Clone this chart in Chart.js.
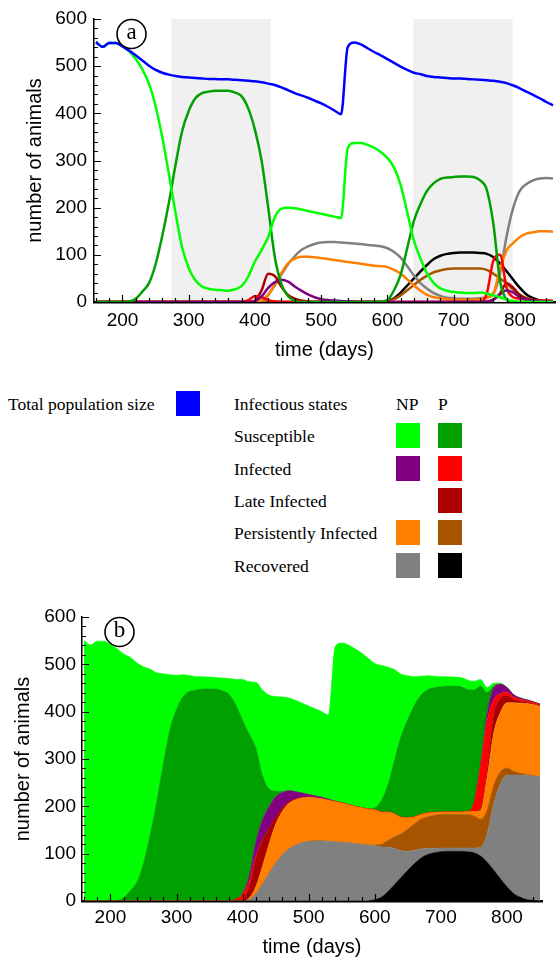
<!DOCTYPE html>
<html>
<head>
<meta charset="utf-8">
<script src="https://cdn.jsdelivr.net/npm/chart.js@4.4.1/dist/chart.umd.min.js"></script>
<style>
    html, body { margin: 0; padding: 0; background: #fff; }
    body { width: 560px; height: 960px; position: relative; overflow: hidden; }
    .chartBox { position: absolute; left: 0; width: 560px; height: 370px; }
    #boxA { top: 0; }
    #boxB { top: 590px; }
    .lg { position: absolute; font-family: "Liberation Serif", "Times New Roman", serif; font-size: 17.5px; color: #000; line-height: 32px; height: 32px; white-space: nowrap; }
    .sq { position: absolute; width: 24px; height: 25px; }
</style>
</head>
<body>
<div class="chartBox" id="boxA"><canvas id="chartA"></canvas></div>
<div id="legend"></div>
<div class="chartBox" id="boxB"><canvas id="chartB"></canvas></div>

<script>
// Data (days, animals)
// ----------------------------------------------
const days = [
    160,170,180,190,200,210,220,230,240,250,
    260,270,280,290,300,310,320,330,340,350,
    360,370,380,390,400,410,420,430,440,450,
    460,470,480,490,500,510,520,530,540,550,
    560,570,580,590,600,610,620,630,640,650,
    660,670,680,690,700,710,720,730,740,750,
    760,770,780,790,800,810,820,830,840,850
];

const xTickValues = [ 200, 300, 400, 500, 600, 700, 800 ];

const totalPop = [
    551,541,549,549,542,533,523,512,501,492,
    486,482,479,477,476,475,474,473,473,472,
    472,471,470,469,468,466,463,460,455,449,
    443,438,433,427,421,414,406,398,540,550,
    546,538,530,523,515,507,499,492,486,483,
    479,477,476,475,474,474,473,472,471,470,
    469,467,464,459,453,446,439,432,424,417
];

// Susceptible, non-pregnant (NP) / pregnant (P)
const suscNP = [
    551,541,549,549,542,532,515,493,463,415,
    350,272,190,116,72,46,33,28,26,25,
    24,27,34,54,86,110,138,180,198,200,
    199,196,193,190,187,184,181,178,326,337,
    337,333,327,318,305,285,248,190,130,92,
    60,40,29,24,21,20,19,19,20,18,
    14,10,5,2,0,0,0,0,0,0
];
const suscP = [
    0,0,0,0,0,1,7,22,40,80,
    140,210,290,362,405,432,443,446,448,448,
    448,444,436,410,365,300,200,95,38,12,
    3,0,0,0,0,0,0,0,0,0,
    0,0,0,1,4,25,58,115,172,208,
    236,252,261,264,265,266,266,265,258,238,
    165,45,5,0,0,0,0,0,0,0
];

const infNP = [
    0,0,0,0,0,0,0,0,0,0,
    0,0,0,0,0,0,0,0,0,0,
    0,0,0,0,2,12,30,42,47,43,
    33,24,16,10,6,4,3,2,1,1,
    0,0,0,0,0,0,0,0,0,0,
    0,0,0,0,0,0,0,0,0,1,
    5,16,25,20,10,5,3,2,1,1
];
const infP = [
    0,0,0,0,0,0,0,0,0,0,
    0,0,0,0,0,0,0,0,0,0,
    0,0,0,4,12,10,4,1,0,0,
    0,0,0,0,0,0,0,0,0,0,
    0,0,0,0,0,0,0,0,0,0,
    0,0,0,0,0,0,0,0,0,18,
    88,100,30,10,7,5,4,3,3,2
];
const lateP = [
    0,0,0,0,0,0,0,0,0,0,
    0,0,0,0,0,0,0,0,0,0,
    0,0,0,0,3,25,60,55,32,15,
    7,3,1,0,0,0,0,0,0,0,
    0,0,0,0,0,0,0,0,0,0,
    0,0,0,0,0,0,0,0,0,0,
    5,18,40,30,15,7,4,3,2,2
];

const persNP = [
    0,0,0,0,0,0,0,0,0,0,
    0,0,0,0,0,0,0,0,0,0,
    0,0,0,0,0,3,15,38,62,82,
    92,96,96,95,93,91,89,87,85,83,
    81,79,77,76,74,68,60,48,35,24,
    15,10,8,6,5,5,5,5,6,9,
    18,70,110,125,138,145,148,150,150,149
];
const persP = [
    0,0,0,0,0,0,0,0,0,0,
    0,0,0,0,0,0,0,0,0,0,
    0,0,0,0,0,0,0,0,0,0,
    0,0,0,0,0,0,0,0,0,0,
    0,0,0,0,2,6,14,25,36,47,
    56,63,67,70,71,71,71,71,71,68,
    60,50,40,26,15,8,4,2,1,0
];

const recNP = [
    0,0,0,0,0,0,0,0,0,0,
    0,0,0,0,0,0,0,0,0,0,
    0,0,0,0,0,3,15,35,58,80,
    97,110,118,123,126,127,127,126,125,124,
    123,121,120,118,114,106,94,76,56,40,
    28,19,13,9,8,7,7,7,8,10,
    18,60,140,200,236,250,258,262,263,262
];
const recP = [
    0,0,0,0,0,0,0,0,0,0,
    0,0,0,0,0,0,0,0,0,0,
    0,0,0,0,0,0,0,0,0,0,
    0,0,0,0,0,0,0,0,0,0,
    0,0,0,0,3,8,20,35,50,65,
    79,91,98,102,104,105,105,105,104,102,
    95,82,65,47,30,16,8,3,1,0
];

// grey shaded periods in panel a (days)
const seasonBands = [ [274, 424], [639, 789] ];

// legend texts
const stateNames = [ 'Susceptible', 'Infected', 'Late Infected', 'Persistently Infected', 'Recovered' ];



// Colors
// ----------------------------------------------
const blueColor   = '#0000ff';
const npColors    = [ '#00ff00', '#800080', null,      '#ff8000', '#808080' ];
const pColors     = [ '#00a000', '#ff0000', '#aa0000', '#a65400', '#000000' ];
const bandColor   = '#f0f0f0';
const axisFont    = '"Liberation Sans", Arial, sans-serif';

// stacking order for panel b, bottom to top
const stackSeries = [
    { data: recP,   color: pColors[4] },
    { data: recNP,  color: npColors[4] },
    { data: persP,  color: pColors[3] },
    { data: persNP, color: npColors[3] },
    { data: lateP,  color: pColors[2] },
    { data: infP,   color: pColors[1] },
    { data: infNP,  color: npColors[1] },
    { data: suscP,  color: pColors[0] },
    { data: suscNP, color: npColors[0] }
];

const toPoints = arr => days.map( (d, i) => ({ x: d, y: arr[i] }) );



// Plugins
// ----------------------------------------------
const seasonShade = {
    id: 'seasonShade',
    beforeDatasetsDraw( chart ) {
        const { ctx, chartArea: { top, bottom }, scales: { x } } = chart;
        ctx.save();
        ctx.fillStyle = bandColor;
        seasonBands.forEach( b => {
            const x0 = x.getPixelForValue( b[0] );
            const x1 = x.getPixelForValue( b[1] );
            ctx.fillRect( x0, top, x1 - x0, bottom - top );
        });
        ctx.restore();
    }
};

// small ticks pointing into the plot, major every 100, minor every 20
const innerTicks = {
    id: 'innerTicks',
    afterDatasetsDraw( chart ) {
        const { ctx, chartArea: { left, bottom }, scales: { x, y } } = chart;
        ctx.save();
        ctx.strokeStyle = '#000';
        ctx.lineWidth = 1.2;
        ctx.beginPath();
        for ( let v = 160; v <= x.max; v += 20 ) {
            const px = Math.round( x.getPixelForValue( v ) ) + 0.5;
            const len = ( v % 100 === 0 ) ? 7 : 4;
            ctx.moveTo( px, bottom );
            ctx.lineTo( px, bottom - len );
        }
        for ( let v = 0; v <= y.max; v += 20 ) {
            const py = Math.round( y.getPixelForValue( v ) ) + 0.5;
            const len = ( v % 100 === 0 ) ? 7 : 4;
            ctx.moveTo( left, py );
            ctx.lineTo( left + len, py );
        }
        ctx.stroke();
        ctx.restore();
    }
};

// circled panel letter
const panelTag = {
    id: 'panelTag',
    afterDraw( chart, args, opts ) {
        const { ctx, chartArea: { left, top } } = chart;
        const cx = left + 37.5, cy = top + 15;
        ctx.save();
        ctx.beginPath();
        ctx.arc( cx, cy, 14.5, 0, Math.PI * 2 );
        ctx.lineWidth = 1.6;
        ctx.strokeStyle = '#000';
        ctx.stroke();
        ctx.fillStyle = '#000';
        ctx.font = '23px "Liberation Serif", serif';
        ctx.textAlign = 'center';
        ctx.textBaseline = 'middle';
        ctx.fillText( opts.text, cx, cy - 1 );
        ctx.restore();
    }
};



// Shared axis options
// ----------------------------------------------
let axisOptions = ( g ) => ({
    x: {
        type: 'linear',
        min: 157,
        max: 853,
        afterFit: s => { s.height = g.xHeight; },
        afterBuildTicks: s => { s.ticks = xTickValues.map( v => ({ value: v }) ); },
        border: { display: true, color: '#000', width: 2.5 },
        grid: { display: false, drawTicks: false },
        ticks: {
            padding: g.xPad,
            color: '#000',
            font: { family: axisFont, size: 19 },
            maxRotation: 0,
            autoSkip: false
        },
        title: {
            display: true,
            text: 'time (days)',
            color: '#000',
            font: { family: axisFont, size: 20 },
            padding: { top: 0, bottom: g.xTitlePad }
        }
    },
    y: {
        min: 0,
        max: 600,
        stacked: g.stacked,
        afterFit: s => { s.width = g.yWidth; },
        border: { display: true, color: '#000', width: 1.5 },
        grid: { display: false, drawTicks: false },
        ticks: {
            stepSize: 100,
            padding: g.yPad,
            color: '#000',
            font: { family: axisFont, size: 19 }
        },
        title: {
            display: true,
            text: 'number of animals',
            color: '#000',
            font: { family: axisFont, size: 20 },
            padding: { top: g.yTitlePad, bottom: 0 }
        }
    }
});



// Panel a: line chart
// ----------------------------------------------
const lineSets = [ { data: totalPop, color: blueColor } ].concat( stackSeries.slice().reverse() );

const chartA = new Chart(
    document.getElementById( 'chartA' ), {
        type: 'line',
        data: {
            datasets: lineSets.map( (s, i) => ({
                data: toPoints( s.data ),
                borderColor: s.color,
                backgroundColor: s.color,
                borderWidth: 2.5,
                pointRadius: 0,
                fill: false,
                order: ( i === 0 ) ? 0 : 1,
                cubicInterpolationMode: 'monotone'
            }))
        },
        options: {
            animation: false,
            responsive: true,
            maintainAspectRatio: false,
            layout: { padding: { top: 19, right: 5, left: 0, bottom: 0 } },
            plugins: {
                legend: { display: false },
                tooltip: { enabled: false },
                panelTag: { text: 'a' }
            },
            scales: axisOptions({ xHeight: 68, xPad: 7, xTitlePad: 8, yWidth: 94, yPad: 7, yTitlePad: 23, stacked: false })
        },
        plugins: [ seasonShade, innerTicks, panelTag ]
    }
);



// Panel b: stacked areas
// ----------------------------------------------
const chartB = new Chart(
    document.getElementById( 'chartB' ), {
        type: 'line',
        data: {
            datasets: stackSeries.map( (s, i) => ({
                data: toPoints( s.data ),
                borderColor: s.color,
                backgroundColor: s.color,
                borderWidth: 0.6,
                pointRadius: 0,
                fill: ( i === 0 ) ? 'origin' : '-1',
                cubicInterpolationMode: 'monotone'
            }))
        },
        options: {
            animation: false,
            responsive: true,
            maintainAspectRatio: false,
            layout: { padding: { top: 27, right: 18, left: 0, bottom: 0 } },
            plugins: {
                legend: { display: false },
                tooltip: { enabled: false },
                panelTag: { text: 'b' }
            },
            scales: axisOptions({ xHeight: 59, xPad: 5, xTitlePad: 1, yWidth: 82, yPad: 6, yTitlePad: 11, stacked: true })
        },
        plugins: [ innerTicks, panelTag ]
    }
);



// Legend (HTML)
// ----------------------------------------------
const legend = document.getElementById( 'legend' );

let addText = ( text, left, top ) => {
    const el = document.createElement( 'div' );
    el.className = 'lg';
    el.style.left = left + 'px';
    el.style.top = top + 'px';
    el.textContent = text;
    legend.appendChild( el );
};

let addSquare = ( color, left, top ) => {
    const el = document.createElement( 'div' );
    el.className = 'sq';
    el.style.left = left + 'px';
    el.style.top = top + 'px';
    el.style.background = color;
    legend.appendChild( el );
};

const rowTop = 388, rowStep = 32.3;

addText( 'Total population size', 8, rowTop );
addSquare( blueColor, 176, rowTop + 3 );
addText( 'Infectious states', 234, rowTop );
addText( 'NP', 396, rowTop );
addText( 'P', 438, rowTop );

stateNames.forEach( (name, i) => {
    const top = rowTop + rowStep * ( i + 1 );
    addText( name, 234, top );
    if ( npColors[i] ) addSquare( npColors[i], 396, top + 3 );
    addSquare( pColors[i], 438, top + 3 );
});
</script>
</body>
</html>
